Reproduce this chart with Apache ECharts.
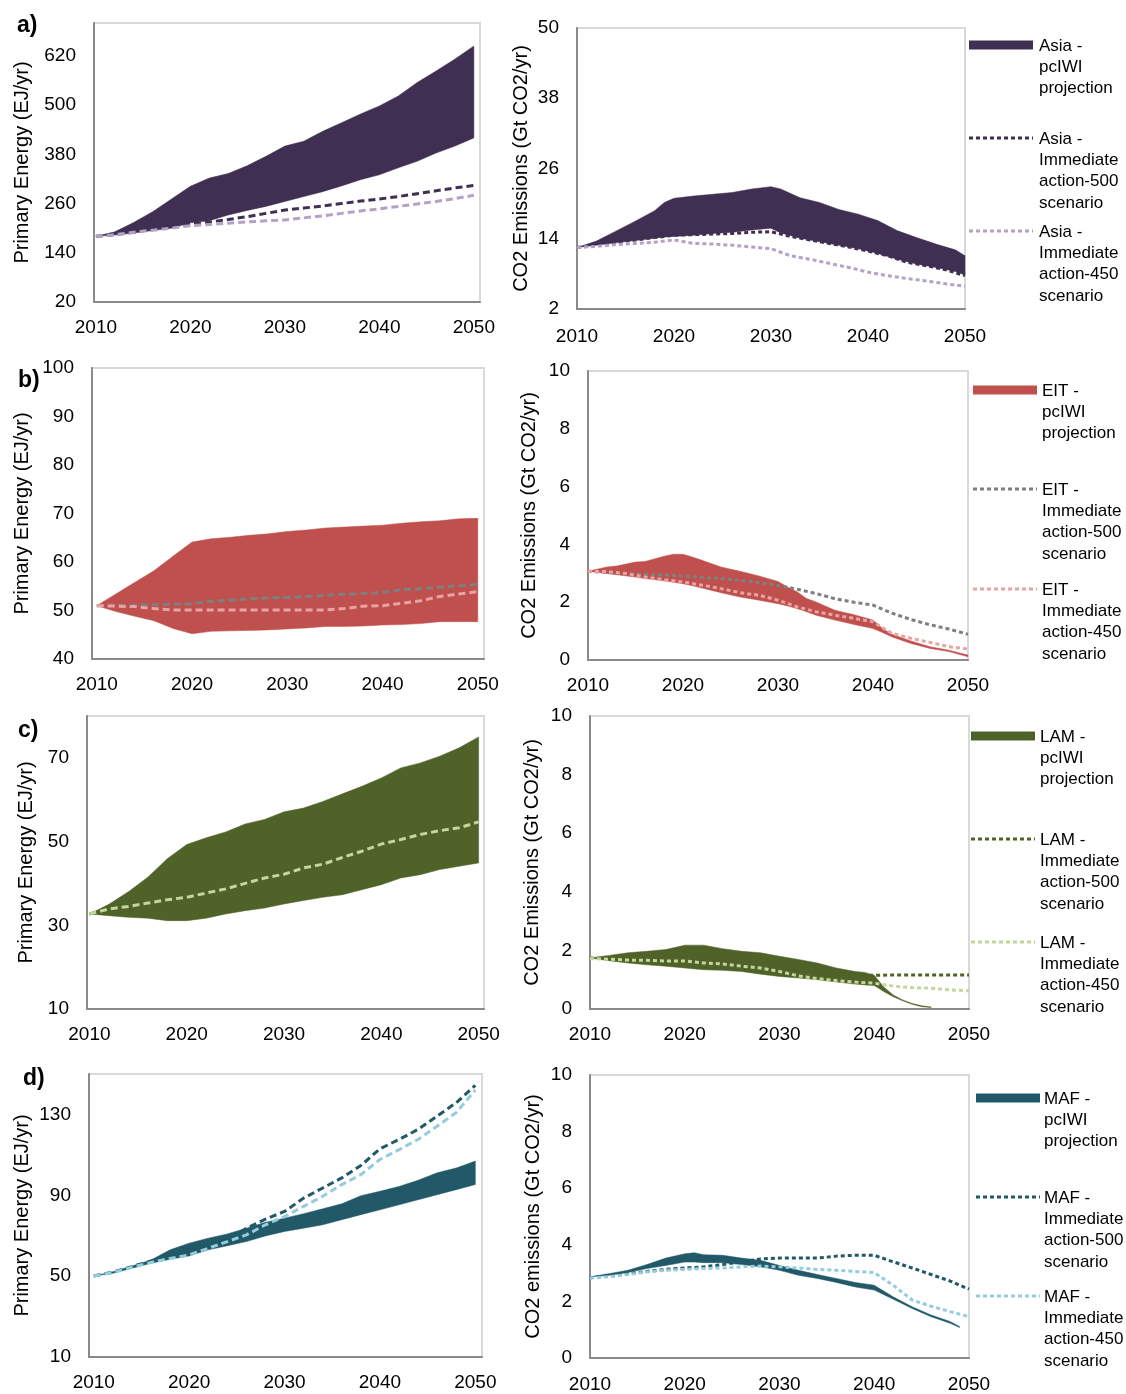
<!DOCTYPE html>
<html><head><meta charset="utf-8">
<script src="https://cdn.jsdelivr.net/npm/echarts@6.0.0/dist/echarts.min.js"></script>
<style>html,body{margin:0;padding:0;background:#fff}#c{width:1126px;height:1394px}</style>
</head><body><div id="c"></div><script>
// ---------- DATA ----------
const YEARS = [2010,2012,2014,2016,2018,2020,2022,2024,2026,2028,2030,2032,2034,2036,2038,2040,2042,2044,2046,2048,2050];
const X_LABELS = [2010,2020,2030,2040,2050];

// a) Asia
const asiaEnergyHigh = [180,191,214,240,271,302,322,333,352,375,400,412,436,457,478,498,522,555,583,612,644];
const asiaEnergyLow  = [180,183,188,194,200,213,218,232,243,253,265,277,289,303,318,330,347,363,383,400,420];
const asiaEnergy500  = [180,184,190,197,203,210,215,221,228,236,244,249,254,260,266,271,277,284,291,298,304];
const asiaEnergy450  = [180,184,190,195,200,206,209,212,215,218,220,225,230,236,242,247,253,259,265,272,280];
const asiaCo2BandYears = [2010,2012,2014,2016,2018,2019,2020,2022,2024,2026,2028,2030,2031,2033,2035,2037,2039,2041,2043,2045,2047,2049,2050];
const asiaCo2High = [12.5,13.6,15.3,17.0,18.8,20.2,20.9,21.3,21.6,21.9,22.5,22.9,22.5,21.0,20.2,19.0,18.2,17.1,15.4,14.2,13.1,12.1,11.1];
const asiaCo2Low  = [12.5,12.9,13.3,13.7,14.1,14.3,14.4,14.6,14.9,15.1,15.5,15.8,15.0,14.1,13.5,12.9,12.3,11.5,10.5,9.7,9.1,8.4,7.8];
const asiaCo2500  = [12.5,12.9,13.4,13.8,14.2,14.6,14.7,14.8,14.9,15.1,15.2,14.4,13.8,13.2,12.6,11.9,11.1,10.0,9.4,8.7,7.7];
const asiaCo2450  = [12.5,12.7,13.0,13.2,13.4,13.8,13.2,13.1,12.9,12.6,12.3,11.1,10.5,9.8,9.1,8.3,7.7,7.2,6.8,6.3,5.9];

// b) EIT
const eitEnergyHigh = [51.0,53.4,55.8,58.2,61.2,64.1,64.8,65.1,65.5,65.8,66.3,66.6,67.0,67.2,67.4,67.6,68.0,68.3,68.5,68.9,69.0];
const eitEnergyLow  = [51.0,49.8,48.8,47.9,46.3,45.2,45.7,45.8,45.9,46.0,46.2,46.4,46.7,46.7,46.8,47.0,47.1,47.3,47.7,47.7,47.7];
const eitEnergy500  = [51.0,51.1,51.1,51.2,51.3,51.4,51.9,52.1,52.4,52.6,52.7,52.9,53.1,53.4,53.5,53.7,54.3,54.5,54.8,55.1,55.4];
const eitEnergy450  = [51.0,50.9,50.8,50.4,50.1,50.1,50.1,50.1,50.1,50.1,50.1,50.1,50.1,50.4,50.9,51.0,51.5,52.0,52.9,53.4,53.9];
const eitCo2BandYears = [2010,2012,2013,2015,2016,2018,2019,2020,2021,2022,2024,2026,2028,2030,2031,2032,2033,2034,2036,2038,2040,2041,2042,2044,2046,2048,2050];
const eitCo2High = [3.07,3.22,3.25,3.39,3.41,3.59,3.66,3.66,3.56,3.45,3.22,3.07,2.91,2.72,2.53,2.36,2.13,2.01,1.72,1.57,1.38,1.09,0.89,0.66,0.46,0.34,0.17];
const eitCo2Low  = [3.07,2.99,2.95,2.87,2.82,2.74,2.69,2.64,2.57,2.49,2.33,2.18,2.07,1.95,1.87,1.78,1.67,1.55,1.38,1.23,1.09,0.95,0.80,0.57,0.40,0.29,0.11];
const eitCo2500  = [3.07,3.03,2.99,2.96,2.94,2.91,2.86,2.82,2.76,2.68,2.58,2.45,2.30,2.12,2.00,1.90,1.62,1.40,1.22,1.07,0.89];
const eitCo2450  = [3.07,3.06,2.99,2.87,2.78,2.70,2.59,2.47,2.33,2.24,2.07,1.84,1.67,1.55,1.44,1.32,0.92,0.75,0.61,0.46,0.38];

// c) LAM
const lamEnergyHigh = [32.7,35.0,38.0,41.5,45.9,49.3,50.9,52.3,54.2,55.3,57.1,58.0,59.6,61.4,63.2,65.2,67.6,68.8,70.4,72.4,75.0];
const lamEnergyLow  = [32.7,32.3,31.9,31.7,31.1,31.1,31.7,32.7,33.5,34.1,35.1,35.9,36.7,37.3,38.5,39.7,41.3,42.1,43.3,44.1,44.9];
const lamEnergy500  = [32.7,33.9,34.5,35.3,36.1,36.7,37.7,38.7,40.0,41.3,42.2,43.7,44.6,46.2,47.7,49.4,50.5,51.7,52.6,53.3,54.7];
const lamEnergy450  = [32.7,33.9,34.5,35.3,36.1,36.7,37.7,38.7,40.0,41.3,42.2,43.7,44.6,46.2,47.7,49.4,50.5,51.7,52.6,53.3,54.7];
const lamCo2BandYears = [2010,2012,2014,2016,2018,2020,2022,2024,2026,2028,2030,2032,2034,2036,2038,2039,2040,2041,2042,2043,2044,2045,2046];
const lamCo2High = [1.74,1.83,1.92,1.97,2.03,2.18,2.18,2.06,1.97,1.92,1.80,1.69,1.57,1.40,1.28,1.25,1.15,0.75,0.48,0.31,0.19,0.11,0.07];
const lamCo2Low  = [1.74,1.65,1.57,1.51,1.46,1.40,1.34,1.32,1.28,1.19,1.11,1.06,1.00,0.92,0.85,0.82,0.80,0.60,0.42,0.28,0.16,0.08,0.05];
const lamCo2500  = [1.74,1.72,1.70,1.70,1.70,1.72,1.68,1.62,1.58,1.52,1.44,1.36,1.28,1.20,1.16,1.15,1.16,1.16,1.16,1.16,1.16];
const lamCo2450  = [1.72,1.70,1.67,1.66,1.64,1.64,1.57,1.54,1.46,1.40,1.28,1.13,1.04,0.97,0.92,0.88,0.78,0.73,0.71,0.65,0.62];

// d) MAF
const mafEnergyHigh = [50.1,52.2,55.0,58.0,63.0,66.3,68.8,70.9,73.7,76.6,78.7,80.9,83.3,85.8,89.8,92.0,94.4,97.4,101.1,103.5,106.9];
const mafEnergyLow  = [50.1,51.4,53.9,56.4,58.3,60.0,63.0,65.0,67.1,69.9,72.1,73.7,75.4,77.9,80.4,82.8,85.3,87.8,90.3,92.8,95.3];
const mafEnergy500  = [50.1,52.0,54.7,57.5,60.5,61.7,65.5,67.9,73.7,78.2,82.0,88.6,93.6,98.6,104.7,113.0,117.6,122.6,129.2,135.8,144.4];
const mafEnergy450  = [50.1,51.8,54.4,56.8,58.8,60.5,63.8,67.1,70.4,75.4,79.5,84.5,89.5,95.3,100.2,107.7,112.6,117.6,124.2,130.9,142.1];
const mafCo2BandYears = [2010,2012,2014,2016,2018,2020,2021,2022,2024,2026,2028,2030,2032,2034,2036,2038,2040,2042,2044,2046,2048,2049];
const mafCo2High = [2.87,2.98,3.10,3.30,3.53,3.68,3.72,3.65,3.63,3.53,3.45,3.27,3.10,2.95,2.81,2.67,2.57,2.16,1.81,1.52,1.29,1.11];
const mafCo2Low  = [2.87,2.92,3.02,3.16,3.27,3.39,3.39,3.37,3.37,3.30,3.22,3.10,2.92,2.81,2.67,2.51,2.40,2.08,1.75,1.46,1.23,1.08];
const mafCo2500  = [2.83,2.92,2.98,3.06,3.13,3.18,3.22,3.30,3.40,3.50,3.53,3.53,3.53,3.60,3.63,3.63,3.40,3.18,2.95,2.72,2.43];
const mafCo2450  = [2.83,2.87,2.95,3.04,3.10,3.13,3.16,3.18,3.22,3.25,3.22,3.18,3.13,3.10,3.06,3.02,2.57,2.05,1.83,1.64,1.46];

const PANEL_LETTERS = ['a)','b)','c)','d)'];
const Y_NAME_ENERGY = 'Primary Energy (EJ/yr)';
const Y_NAME_CO2 = 'CO2 Emissions (Gt CO2/yr)';
const Y_NAME_CO2_LOWER = 'CO2 emissions (Gt CO2/yr)';

// ---------- STYLE / LAYOUT ----------
const FONT = 'Liberation Sans, Arial, Helvetica, sans-serif';
const COLORS = {
  Asia: {band:'#3f2f52', l500:'#3f2f52', l450:'#b3a2c7'},
  EIT:  {band:'#c0504d', l500:'#7f7f7f', l450:'#e8a3a2'},
  LAM:  {band:'#4f6228', l500:'#4f6228', l450:'#c3d69b'},
  MAF:  {band:'#215968', l500:'#215968', l450:'#93cddd'}
};
const PANELS = [
  {region:'Asia', grid:{left:94,top:23,width:386,height:279}, x:[2009.8,2050.65], y:[20,700,120], hideMax:true, name:Y_NAME_ENERGY, gap:62, dash:[7,4], xm:16,
   bandYears:YEARS, high:asiaEnergyHigh, low:asiaEnergyLow, l500:asiaEnergy500, l450:asiaEnergy450, left:true},
  {region:'Asia', grid:{left:577,top:28,width:388,height:281}, x:[2010,2050], y:[2,50,12], name:Y_NAME_CO2, gap:46, dash:[4,3], xm:18,
   bandYears:asiaCo2BandYears, high:asiaCo2High, low:asiaCo2Low, l500:asiaCo2500, l450:asiaCo2450},
  {region:'EIT', grid:{left:92,top:368,width:392,height:291}, x:[2009.5,2050.65], y:[40,100,10], name:Y_NAME_ENERGY, gap:60, dash:[7,4], xm:16,
   bandYears:YEARS, high:eitEnergyHigh, low:eitEnergyLow, l500:eitEnergy500, l450:eitEnergy450, left:true},
  {region:'EIT', grid:{left:588,top:371,width:380,height:289}, x:[2010,2050], y:[0,10,2], name:Y_NAME_CO2, gap:49, dash:[4,3], xm:16,
   bandYears:eitCo2BandYears, high:eitCo2High, low:eitCo2Low, l500:eitCo2500, l450:eitCo2450},
  {region:'LAM', grid:{left:87,top:716,width:397,height:293}, x:[2009.75,2050.55], y:[10,80,20], hideMax:true, name:Y_NAME_ENERGY, gap:51, dash:[7,4], xm:16,
   bandYears:YEARS, high:lamEnergyHigh, low:lamEnergyLow, l500:lamEnergy500, l450:lamEnergy450, left:true},
  {region:'LAM', grid:{left:590,top:716,width:379,height:293}, x:[2010,2050], y:[0,10,2], name:Y_NAME_CO2, gap:48, dash:[4,3], xm:16,
   bandYears:lamCo2BandYears, high:lamCo2High, low:lamCo2Low, l500:lamCo2500, l450:lamCo2450},
  {region:'MAF', grid:{left:89,top:1074,width:393,height:283}, x:[2009.5,2050.7], y:[10,150,40], hideMax:true, name:Y_NAME_ENERGY, gap:57, dash:[7,4], xm:16,
   bandYears:YEARS, high:mafEnergyHigh, low:mafEnergyLow, l500:mafEnergy500, l450:mafEnergy450, left:true},
  {region:'MAF', grid:{left:590,top:1075,width:379,height:284}, x:[2010,2050], y:[0,10,2], name:Y_NAME_CO2_LOWER, gap:47, dash:[4,3], xm:17,
   bandYears:mafCo2BandYears, high:mafCo2High, low:mafCo2Low, l500:mafCo2500, l450:mafCo2450}
];
const LEGENDS = [
  {region:'Asia', iconX:969, textX:1039, ys:[45,138,231]},
  {region:'EIT',  iconX:973, textX:1042, ys:[390,489,589]},
  {region:'LAM',  iconX:971, textX:1040, ys:[736,839,942]},
  {region:'MAF',  iconX:976, textX:1044, ys:[1098,1197,1296]}
];
const LETTER_POS = [[17,27],[18,382],[18,732],[23,1080]];

// ---------- BUILD ----------
const pairs = (xs, vs) => xs.map((x, k) => [x, vs[k]]);
const yearFmt = v => String(Math.round(v));
const grids = [], xAxes = [], yAxes = [], series = [];
PANELS.forEach((p, i) => {
  const c = COLORS[p.region];
  grids.push(Object.assign({show:true, borderColor:'#d9d9d9', borderWidth:2, backgroundColor:'#fff'}, p.grid));
  const xa = {gridIndex:i, type:'value', min:p.x[0], max:p.x[1],
    axisLine:{show:true, onZero:false, lineStyle:{color:'#8a8a8a', width:2}},
    axisTick:{show:false}, splitLine:{show:false},
    axisLabel:{color:'#000', fontSize:19, fontFamily:FONT, margin:p.xm, formatter:yearFmt}};
  if (p.left) { xa.axisLabel.customValues = X_LABELS; } else { xa.interval = 10; }
  xAxes.push(xa);
  yAxes.push({gridIndex:i, type:'value', min:p.y[0], max:p.y[1], interval:p.y[2],
    axisLine:{show:true, onZero:false, lineStyle:{color:'#8a8a8a', width:2}},
    axisTick:{show:false}, splitLine:{show:false},
    axisLabel:{color:'#000', fontSize:19, fontFamily:FONT, margin:18, padding:[4,0,0,0], showMaxLabel: !p.hideMax},
    name:p.name, nameLocation:'middle', nameGap:p.gap,
    nameTextStyle:{color:'#000', fontSize:20, fontFamily:FONT}});
  // band: polygon along the upper edge and back along the lower edge, placed by the axes
  const highPts = pairs(p.bandYears, p.high);
  const lowPts = pairs(p.bandYears, p.low);
  const ring = highPts.concat(lowPts.slice().reverse());
  series.push({type:'custom', coordinateSystem:'cartesian2d', xAxisIndex:i, yAxisIndex:i, silent:true, z:2,
    data:ring,
    renderItem: (params, api) => {
      if (params.dataIndex !== 0) return null;
      const pts = ring.map(d => api.coord(d));
      return {type:'polygon', shape:{points:pts}, style:{fill:c.band, stroke:c.band, lineWidth:0.5}};
    }});
  series.push({type:'line', xAxisIndex:i, yAxisIndex:i, symbol:'none', silent:true, z:3,
    lineStyle:{color:c.l500, width:3, type:p.dash}, data:pairs(YEARS, p.l500)});
  series.push({type:'line', xAxisIndex:i, yAxisIndex:i, symbol:'none', silent:true, z:4,
    lineStyle:{color:c.l450, width:3, type:p.dash}, data:pairs(YEARS, p.l450)});
});

const graphic = [];
PANEL_LETTERS.forEach((t, i) => {
  graphic.push({type:'text', left:LETTER_POS[i][0], top:LETTER_POS[i][1] - 13,
    style:{text:t, font:'bold 23px ' + FONT, fill:'#000'}});
});
LEGENDS.forEach(L => {
  const c = COLORS[L.region];
  const texts = [L.region + ' -\npcIWI\nprojection',
                 L.region + ' -\nImmediate\naction-500\nscenario',
                 L.region + ' -\nImmediate\naction-450\nscenario'];
  graphic.push({type:'rect', shape:{x:L.iconX, y:L.ys[0] - 4.5, width:64, height:9}, style:{fill:c.band}});
  graphic.push({type:'line', shape:{x1:L.iconX, y1:L.ys[1], x2:L.iconX + 64, y2:L.ys[1]}, style:{stroke:c.l500, lineWidth:3, lineDash:[4,3]}});
  graphic.push({type:'line', shape:{x1:L.iconX, y1:L.ys[2], x2:L.iconX + 64, y2:L.ys[2]}, style:{stroke:c.l450, lineWidth:3, lineDash:[4,3]}});
  texts.forEach((t, k) => {
    graphic.push({type:'text', x:L.textX, y:L.ys[k] + 1 - 10.5,
      style:{text:t, fontSize:17, fontFamily:FONT, fill:'#000', lineHeight:21.3, verticalAlign:'top'}});
  });
});

const chart = echarts.init(document.getElementById('c'), null, {renderer:'canvas', width:1126, height:1394});
chart.setOption({animation:false, backgroundColor:'#fff', grid:grids, xAxis:xAxes, yAxis:yAxes, series, graphic});
</script></body></html>
